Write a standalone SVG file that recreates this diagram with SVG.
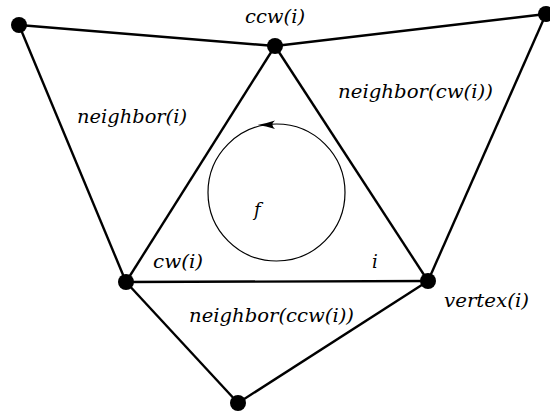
<svg xmlns="http://www.w3.org/2000/svg" width="550" height="411" viewBox="0 0 550 411">
<style>
.e{stroke:#000;stroke-width:2.4;fill:none}
.n{fill:#000}
text{font-family:"DejaVu Serif","Liberation Serif",serif;font-style:italic;font-weight:normal;font-size:18px;fill:#000}
</style>
<rect width="550" height="411" fill="#fff"/>
<g id="connectors">
<line class="e" x1="19" y1="25" x2="275" y2="46"/>
<line class="e" x1="275" y1="46" x2="546" y2="14"/>
<line class="e" x1="19" y1="25" x2="126" y2="282"/>
<line class="e" x1="546" y1="14" x2="428" y2="281"/>
<line class="e" x1="275" y1="46" x2="126" y2="282"/>
<line class="e" x1="275" y1="46" x2="428" y2="281"/>
<line class="e" x1="126" y1="282" x2="428" y2="281"/>
<line class="e" x1="126" y1="282" x2="238" y2="403"/>
<line class="e" x1="428" y1="281" x2="238" y2="403"/>
<circle cx="276.5" cy="192.5" r="68.5" fill="none" stroke="#000" stroke-width="1.2"/>
<path d="M257.5,125 Q266,123.5 275,120.5 Q270,124.5 275,129 Q266,126 257.5,125Z" fill="#000"/>
</g>
<g id="n1"><circle class="n" cx="19" cy="25" r="8"/></g>
<g id="n2"><circle class="n" cx="275" cy="46" r="8"/><text x="245" y="23" textLength="60" lengthAdjust="spacingAndGlyphs">ccw(i)</text></g>
<g id="n3"><circle class="n" cx="546" cy="14" r="8"/></g>
<g id="n4"><circle class="n" cx="126" cy="282" r="8"/></g>
<g id="n5"><circle class="n" cx="428" cy="281" r="8"/><text x="444" y="307" textLength="85" lengthAdjust="spacingAndGlyphs">vertex(i)</text></g>
<g id="n6"><circle class="n" cx="238" cy="403" r="8"/></g>
<g id="labels">
<text x="77" y="123" textLength="110" lengthAdjust="spacingAndGlyphs">neighbor(i)</text>
<text x="338" y="98" textLength="155" lengthAdjust="spacingAndGlyphs">neighbor(cw(i))</text>
<text x="254" y="216">f</text>
<text x="153" y="268" textLength="50" lengthAdjust="spacingAndGlyphs">cw(i)</text>
<text x="372" y="268">i</text>
<text x="189" y="322" textLength="165" lengthAdjust="spacingAndGlyphs">neighbor(ccw(i))</text>
</g>
</svg>
